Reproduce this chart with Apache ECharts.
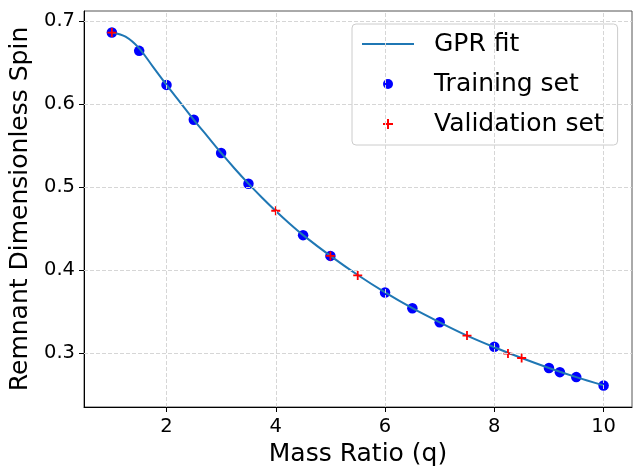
<!DOCTYPE html>
<html>
<head>
<meta charset="utf-8">
<script src="https://cdn.jsdelivr.net/npm/echarts@6/dist/echarts.min.js"></script>
<style>
  html, body { margin: 0; padding: 0; background: #fff; }
  #chart { width: 634px; height: 466px; }
</style>
</head>
<body>
<div id="chart"></div>
<script>
// GPR fit curve
const fitX = [1, 1.25, 1.5, 1.75, 2, 2.25, 2.5, 2.75, 3, 3.25, 3.5, 3.75, 4, 4.25, 4.5, 5, 5.5, 6, 6.5, 7, 7.5, 8, 8.5, 9, 9.5, 10];
const fitY = [0.686, 0.681, 0.667, 0.645, 0.623, 0.602, 0.581, 0.561, 0.541, 0.522, 0.504, 0.487, 0.471, 0.456, 0.442, 0.417, 0.394, 0.373, 0.354, 0.337, 0.321, 0.307, 0.294, 0.282, 0.271, 0.261];

// training points
const trainX = [1, 1.5, 2, 2.5, 3, 3.5, 4.5, 5, 6, 6.5, 7, 8, 9, 9.2, 9.5, 10];
const trainY = [0.686, 0.664, 0.623, 0.581, 0.541, 0.504, 0.442, 0.417, 0.373, 0.354, 0.337, 0.3075, 0.282, 0.277, 0.271, 0.261];

// validation points
const valX = [1, 4, 5, 5.5, 7.5, 8.25, 8.5];
const valY = [0.686, 0.4714, 0.417, 0.3935, 0.321, 0.2993, 0.294];

const xTicks = [2, 4, 6, 8, 10];
const yTicks = [0.3, 0.4, 0.5, 0.6, 0.7];

const zip = (a, b) => a.map((v, i) => [v, b[i]]);
const plus = 'path://M4,0H6V4H10V6H6V10H4V6H0V4H4Z';
const font = 'DejaVu Sans';

const gridLines = xTicks.map(v => ({ xAxis: v })).concat(yTicks.map(v => ({ yAxis: v })));

const chart = echarts.init(document.getElementById('chart'));
chart.setOption({
    animation: false,
    grid: {
        left: 84, top: 11, right: 2, bottom: 59,
        outerBoundsMode: 'none',
        show: true,
        borderColor: '#555',
        borderWidth: 1
    },
    legend: {
        data: [
            { name: 'GPR fit', icon: 'path://M0,4H52V6H0Z' },
            { name: 'Training set', icon: 'circle' },
            { name: 'Validation set', icon: plus }
        ],
        orient: 'vertical',
        left: 352,
        top: 24,
        padding: [7, 14, 8, 10],
        itemWidth: 52,
        itemHeight: 10,
        itemGap: 14,
        backgroundColor: 'rgba(255,255,255,0.8)',
        borderColor: '#ccc',
        borderWidth: 1,
        borderRadius: 4,
        textStyle: {
            fontFamily: font,
            fontSize: 25,
            lineHeight: 26,
            color: '#000',
            padding: [0, 0, 0, 15]
        }
    },
    xAxis: {
        type: 'value',
        min: 0.49,
        max: 10.52,
        name: 'Mass Ratio (q)',
        nameLocation: 'middle',
        nameGap: 32,
        nameTextStyle: { fontFamily: font, fontSize: 25, color: '#000' },
        axisLine: { show: true, onZero: false, lineStyle: { color: '#000', width: 1 } },
        axisTick: { show: true, length: 5, customValues: xTicks, lineStyle: { color: '#000' } },
        axisLabel: { customValues: xTicks, fontFamily: font, fontSize: 19.5, color: '#000', margin: 10 },
        splitLine: { show: false }
    },
    yAxis: {
        type: 'value',
        min: 0.235,
        max: 0.712,
        name: 'Remnant Dimensionless Spin',
        nameLocation: 'middle',
        nameGap: 50,
        nameTextStyle: { fontFamily: font, fontSize: 25, color: '#000' },
        axisLine: { show: true, onZero: false, lineStyle: { color: '#000', width: 1 } },
        axisTick: { show: true, length: 5, customValues: yTicks, lineStyle: { color: '#000' } },
        axisLabel: { customValues: yTicks, fontFamily: font, fontSize: 19.5, color: '#000', margin: 9 },
        splitLine: { show: false }
    },
    series: [
        {
            // dashed grid
            name: 'grid',
            type: 'line',
            data: [],
            silent: true,
            z: 1,
            markLine: {
                silent: true,
                symbol: 'none',
                label: { show: false },
                lineStyle: { type: [4, 2], color: '#d6d6d6', width: 1 },
                data: gridLines
            }
        },
        {
            name: 'Training set',
            type: 'scatter',
            data: zip(trainX, trainY),
            symbol: 'circle',
            symbolSize: 10.5,
            itemStyle: { color: '#0000ff', opacity: 1 },
            z: 2
        },
        {
            name: 'GPR fit',
            type: 'line',
            data: zip(fitX, fitY),
            smooth: 0.3,
            showSymbol: false,
            symbol: 'none',
            lineStyle: { color: '#1f77b4', width: 2 },
            itemStyle: { color: '#1f77b4' },
            z: 3
        },
        {
            name: 'Validation set',
            type: 'scatter',
            data: zip(valX, valY),
            symbol: plus,
            symbolSize: 9,
            itemStyle: { color: '#ff0000', opacity: 1 },
            z: 4
        }
    ]
});
</script>
</body>
</html>
